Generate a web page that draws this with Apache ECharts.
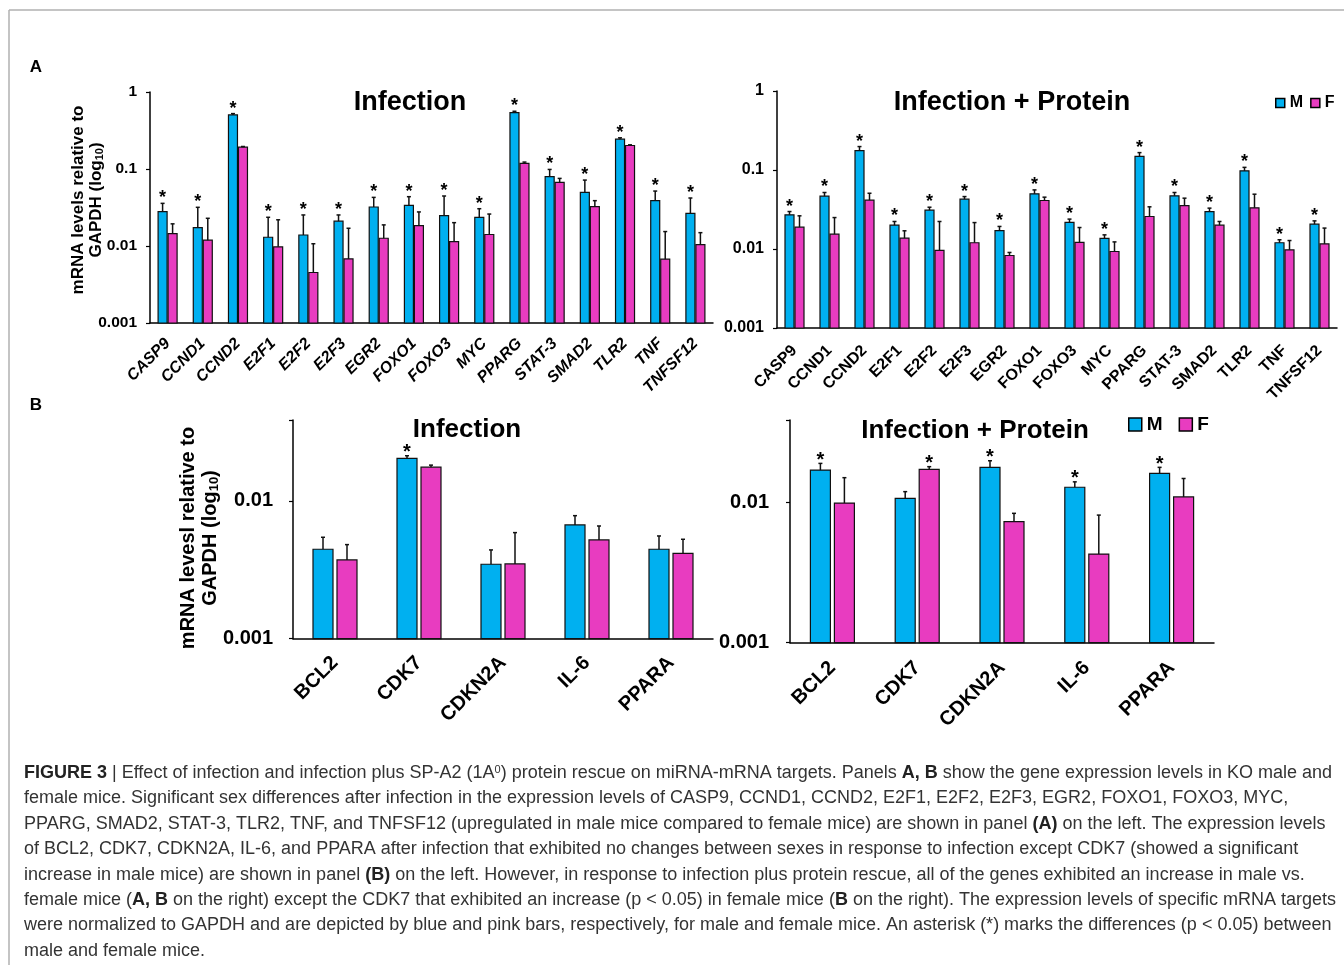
<!DOCTYPE html>
<html><head><meta charset="utf-8">
<script src="https://cdn.jsdelivr.net/npm/echarts@6/dist/echarts.min.js"></script>
<style>html,body{margin:0;padding:0;background:#fff;}#c{width:1344px;height:965px;}</style>
</head><body><div id="c"></div>
<script>
// ---------- data ----------
const catsA = ['CASP9','CCND1','CCND2','E2F1','E2F2','E2F3','EGR2','FOXO1','FOXO3','MYC','PPARG','STAT-3','SMAD2','TLR2','TNF','TNFSF12'];
// Panel A, Infection
const infM    = [0.0279,0.0173,0.504,0.0130,0.0139,0.0210,0.0321,0.0337,0.0248,0.0236,0.540,0.0794,0.0497,0.244,0.0388,0.0266];
const infMErr = [0.0358,0.0318,0.524,0.0236,0.0253,0.0253,0.0428,0.0437,0.0446,0.0305,0.562,0.0987,0.0718,0.254,0.0517,0.0420];
const infF    = [0.0145,0.0119,0.192,0.00975,0.00453,0.0068,0.0126,0.0184,0.0114,0.0141,0.118,0.0670,0.0324,0.202,0.00675,0.01045];
const infFErr = [0.0194,0.0229,0.196,0.0219,0.0107,0.0170,0.0188,0.0277,0.0201,0.0260,0.123,0.0755,0.0388,0.206,0.0154,0.0149];
const infMStar = [1,1,1,1,1,1,1,1,1,1,1,1,1,1,1,1];
const infFStar = [0,0,0,0,0,0,0,0,0,0,0,0,0,0,0,0];
// Panel A, Infection + Protein
const protM    = [0.0271,0.0466,0.176,0.0200,0.0310,0.0427,0.0171,0.0499,0.0217,0.0136,0.149,0.0471,0.0298,0.0975,0.0120,0.0206];
const protMErr = [0.0298,0.0519,0.198,0.0223,0.0338,0.0461,0.0193,0.0560,0.0239,0.0151,0.166,0.0519,0.0329,0.108,0.0131,0.0227];
const protF    = [0.0189,0.0154,0.0415,0.0137,0.00958,0.0120,0.00828,0.0411,0.0121,0.0093,0.0258,0.0355,0.0200,0.0332,0.00977,0.0116];
const protFErr = [0.0263,0.0250,0.0508,0.0170,0.0223,0.0216,0.00904,0.0453,0.0187,0.0123,0.0342,0.0440,0.0223,0.0494,0.0128,0.0184];
const protMStar = [1,1,1,1,1,1,1,1,1,1,1,1,1,1,1,1];
const protFStar = [0,0,0,0,0,0,0,0,0,0,0,0,0,0,0,0];
// Panel B
const catsB = ['BCL2','CDK7','CDKN2A','IL-6','PPARA'];
const bInfM    = [0.00446,0.0204,0.00347,0.0067,0.00446];
const bInfMErr = [0.00545,0.0213,0.00441,0.00782,0.00557];
const bInfF    = [0.00373,0.0176,0.00349,0.00521,0.00417];
const bInfFErr = [0.00482,0.0182,0.00589,0.00658,0.00527];
const bInfMStar = [0,1,0,0,0];
const bInfFStar = [0,0,0,0,0];
const bProtM    = [0.0171,0.01074,0.0179,0.0129,0.0162];
const bProtMErr = [0.0191,0.0120,0.01995,0.0141,0.0179];
const bProtF    = [0.00995,0.0173,0.00732,0.0043,0.0110];
const bProtFErr = [0.0151,0.0181,0.0084,0.00816,0.0149];
const bProtMStar = [1,0,1,1,1];
const bProtFStar = [0,1,0,0,0];
const yTicksA = [0.001,0.01,0.1,1];
const yTicksB = [0.001,0.01];

// ---------- styling ----------
const FONT = '"Liberation Sans", Arial, Helvetica, sans-serif';
const BLUE = '#00B0F0', PINK = '#E83CC0';

function barSeries(name, gi, vals, errs, stars, color, side, bw, gap, starSize, starOff) {
  return {
    type: 'custom', name: name, xAxisIndex: gi, yAxisIndex: gi,
    itemStyle: {color: color},
    encode: {x: 0, y: 1},
    data: vals.map((v, i) => [i, v, errs[i], stars[i]]),
    renderItem: function (params, api) {
      const i = api.value(0), v = api.value(1), e = api.value(2), s = api.value(3);
      const cs = params.coordSys;
      const p = api.coord([i, v]);
      const pe = api.coord([i, e]);
      const yb = cs.y + cs.height;
      const x0 = side < 0 ? p[0] - gap / 2 - bw : p[0] + gap / 2;
      const xc = x0 + bw / 2;
      const children = [
        {type: 'rect', shape: {x: x0, y: p[1], width: bw, height: yb - p[1]}, style: {fill: color, stroke: '#111', lineWidth: 1.2}},
        {type: 'line', shape: {x1: xc, y1: p[1], x2: xc, y2: pe[1]}, style: {stroke: '#111', lineWidth: 1.5}},
        {type: 'line', shape: {x1: xc - 2, y1: pe[1], x2: xc + 2, y2: pe[1]}, style: {stroke: '#111', lineWidth: 1.5}}
      ];
      if (s) {
        children.push({type: 'text', x: xc, y: pe[1] - starOff,
          style: {text: '*', fontSize: starSize, fontWeight: 'bold', fontFamily: FONT, fill: '#000', align: 'center', verticalAlign: 'middle'}});
      }
      return {type: 'group', children: children};
    }
  };
}

function fmtLog(ticks) {
  return function (v) {
    for (const t of ticks) { if (Math.abs(v - t) / t < 1e-6) return String(t); }
    return '';
  };
}
function yAxis(gi, max, ticks, fs, margin) {
  return {
    type: 'log', logBase: 10, gridIndex: gi, min: 0.001, max: max,
    axisLine: {show: true, lineStyle: {color: '#000', width: 1.5}},
    axisTick: {show: true, length: 4, lineStyle: {color: '#000', width: 1.2}},
    minorTick: {show: false}, splitLine: {show: false},
    axisLabel: {fontSize: fs, fontWeight: 'bold', color: '#000', fontFamily: FONT, margin: margin, formatter: fmtLog(ticks)}
  };
}
function xAxis(gi, cats, fs, italic, margin) {
  return {
    type: 'category', gridIndex: gi, data: cats,
    axisLine: {show: true, lineStyle: {color: '#000', width: 1.5}},
    axisTick: {show: false}, splitLine: {show: false},
    axisLabel: {interval: 0, rotate: 45, fontSize: fs, fontWeight: 'bold', fontStyle: italic ? 'italic' : 'normal', color: '#000', fontFamily: FONT, margin: margin}
  };
}

const captionLines = [
  '{b|FIGURE 3} | Effect of infection and infection plus SP-A2 (1A{sup|0}) protein rescue on miRNA-mRNA targets. Panels {b|A, B} show the gene expression levels in KO male and',
  'female mice. Significant sex differences after infection in the expression levels of CASP9, CCND1, CCND2, E2F1, E2F2, E2F3, EGR2, FOXO1, FOXO3, MYC,',
  'PPARG, SMAD2, STAT-3, TLR2, TNF, and TNFSF12 (upregulated in male mice compared to female mice) are shown in panel {b|(A)} on the left. The expression levels',
  'of BCL2, CDK7, CDKN2A, IL-6, and PPARA after infection that exhibited no changes between sexes in response to infection except CDK7 (showed a significant',
  'increase in male mice) are shown in panel {b|(B)} on the left. However, in response to infection plus protein rescue, all of the genes exhibited an increase in male vs.',
  'female mice ({b|A, B} on the right) except the CDK7 that exhibited an increase (p < 0.05) in female mice ({b|B} on the right). The expression levels of specific mRNA targets',
  'were normalized to GAPDH and are depicted by blue and pink bars, respectively, for male and female mice. An asterisk (*) marks the differences (p < 0.05) between',
  'male and female mice.'
];
const capFS = 18, capColor = '#333';
const captionGraphics = captionLines.map((t, k) => ({
  type: 'text', x: 24, y: 773 + k * 25.4,
  style: {text: t, fontSize: capFS, fontFamily: FONT, fill: capColor, align: 'left', verticalAlign: 'middle',
    rich: {
      b: {fontSize: capFS, fontFamily: FONT, fontWeight: 'bold', fill: '#222'},
      sup: {fontSize: 11, fontFamily: FONT, fill: capColor, verticalAlign: 'top', lineHeight: 10}
    }}
}));

function yName(x, y, fs, lh, subFs, line1) {
  return {
    type: 'text', x: x, y: y, rotation: Math.PI / 2,
    style: {
      text: '{b|' + line1 + '}\n{b|GAPDH (log}{s|10}{b|)}',
      align: 'center', verticalAlign: 'middle', fontFamily: FONT, fontSize: fs, fill: '#000',
      rich: {
        b: {fontSize: fs, fontWeight: 'bold', fontFamily: FONT, fill: '#000', lineHeight: lh},
        s: {fontSize: subFs, fontWeight: 'bold', fontFamily: FONT, fill: '#000', lineHeight: 8, verticalAlign: 'bottom'}
      }
    }
  };
}
function title(x, y, fs, txt) {
  return {type: 'text', x: x, y: y, style: {text: txt, fontSize: fs, fontWeight: 'bold', fontFamily: FONT, fill: '#000', align: 'center', verticalAlign: 'middle'}};
}

const legendData = [
  {name: 'M', itemStyle: {color: BLUE, borderColor: '#000', borderWidth: 1.5}},
  {name: 'F', itemStyle: {color: PINK, borderColor: '#000', borderWidth: 1.5}}
];

const option = {
  animation: false,
  backgroundColor: '#fff',
  textStyle: {fontFamily: FONT},
  grid: [
    {left: 150, top: 92, width: 563, height: 231, outerBoundsMode: 'none', containLabel: false},
    {left: 777, top: 91, width: 560, height: 237, outerBoundsMode: 'none', containLabel: false},
    {left: 293, top: 420, width: 420, height: 218.7, outerBoundsMode: 'none', containLabel: false},
    {left: 790, top: 420, width: 424, height: 222.7, outerBoundsMode: 'none', containLabel: false}
  ],
  xAxis: [xAxis(0, catsA, 16, true, 18), xAxis(1, catsA, 16, false, 20), xAxis(2, catsB, 20, false, 21), xAxis(3, catsB, 20, false, 22)],
  yAxis: [yAxis(0, 1, yTicksA, 15.5, 13), yAxis(1, 1, yTicksA, 16, 13), yAxis(2, 0.0387, yTicksB, 20, 20), yAxis(3, 0.039, yTicksB, 20, 21)],
  legend: [
    {data: legendData, left: 1275, top: 95, icon: 'rect', itemWidth: 9, itemHeight: 9, itemGap: 7, padding: 0, selectedMode: false,
      textStyle: {fontSize: 16, fontWeight: 'bold', color: '#000', fontFamily: FONT}},
    {data: legendData, left: 1128, top: 415, icon: 'rect', itemWidth: 13, itemHeight: 13, itemGap: 16, padding: 0, selectedMode: false,
      textStyle: {fontSize: 19, fontWeight: 'bold', color: '#000', fontFamily: FONT}}
  ],
  series: [
    barSeries('M', 0, infM, infMErr, infMStar, BLUE, -1, 9, 1, 18, 5),
    barSeries('F', 0, infF, infFErr, infFStar, PINK, 1, 9, 1, 18, 5),
    barSeries('M', 1, protM, protMErr, protMStar, BLUE, -1, 9, 1, 18, 5),
    barSeries('F', 1, protF, protFErr, protFStar, PINK, 1, 9, 1, 18, 5),
    barSeries('M', 2, bInfM, bInfMErr, bInfMStar, BLUE, -1, 20, 4, 20, 3),
    barSeries('F', 2, bInfF, bInfFErr, bInfFStar, PINK, 1, 20, 4, 20, 3),
    barSeries('M', 3, bProtM, bProtMErr, bProtMStar, BLUE, -1, 20, 4, 20, 3),
    barSeries('F', 3, bProtF, bProtFErr, bProtFStar, PINK, 1, 20, 4, 20, 3)
  ],
  graphic: [
    {type: 'line', shape: {x1: 9, y1: 10, x2: 1344, y2: 10}, style: {stroke: '#b0b0b0', lineWidth: 1.5}},
    {type: 'line', shape: {x1: 9, y1: 10, x2: 9, y2: 965}, style: {stroke: '#b0b0b0', lineWidth: 1.5}},
    {type: 'text', x: 36, y: 67, style: {text: 'A', fontSize: 17, fontWeight: 'bold', fontFamily: FONT, fill: '#000', align: 'center', verticalAlign: 'middle'}},
    {type: 'text', x: 36, y: 405, style: {text: 'B', fontSize: 17, fontWeight: 'bold', fontFamily: FONT, fill: '#000', align: 'center', verticalAlign: 'middle'}},
    title(410, 103, 27, 'Infection'),
    title(1012, 103, 27, 'Infection + Protein'),
    title(467, 430, 26, 'Infection'),
    title(975, 431, 26, 'Infection + Protein'),
    yName(87, 200, 17, 18, 11, 'mRNA levels relative to'),
    yName(199, 538, 20, 22, 13, 'mRNA levesl relative to')
  ].concat(captionGraphics)
};
const chart = echarts.init(document.getElementById('c'));
chart.setOption(option);
</script></body></html>
